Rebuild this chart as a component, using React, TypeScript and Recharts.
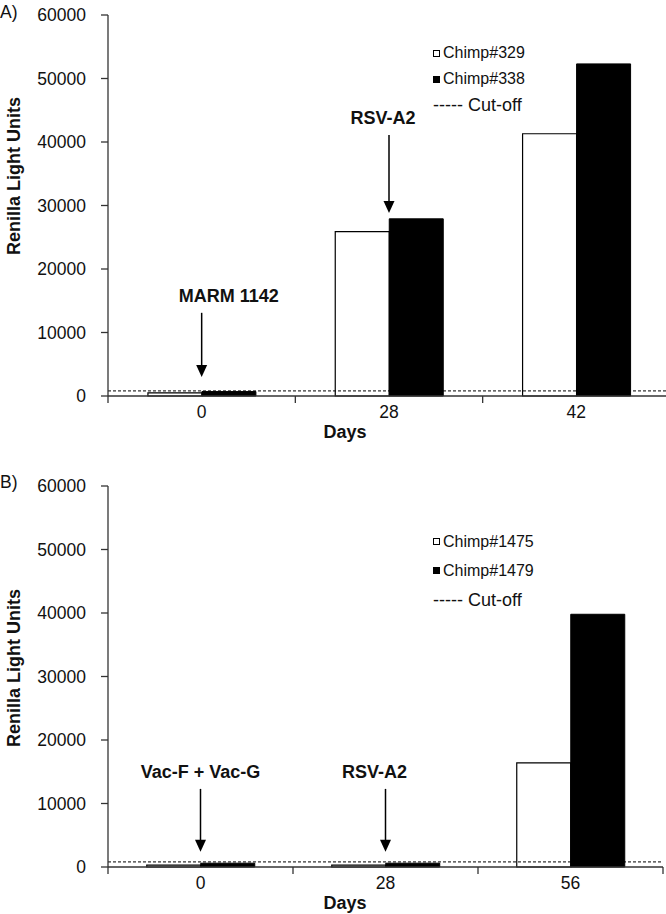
import React from 'react';
import { Bar, BarChart, Legend, ReferenceLine, XAxis, YAxis } from 'recharts';

// panel A
const daysA = ['0', '28', '42'];
const chimp329 = [500, 25900, 41300];
const chimp338 = [700, 27900, 52300];
const arrowsA = [
  { day: '0', label: 'MARM 1142', from: 13100, to: 3000 },
  { day: '28', label: 'RSV-A2', from: 41100, to: 28800 },
];

// panel B
const daysB = ['0', '28', '56'];
const chimp1475 = [300, 300, 16400];
const chimp1479 = [600, 600, 39800];
const arrowsB = [
  { day: '0', label: 'Vac-F + Vac-G', from: 12300, to: 2400 },
  { day: '28', label: 'RSV-A2', from: 12300, to: 2400 },
];

const cutOff = 800;
const yTicks = [0, 10000, 20000, 30000, 40000, 50000, 60000];

const FONT = '"Liberation Sans", Arial, sans-serif';
const INK = '#111';
const AXIS = '#333';

type Arrow = { day: string; label: string; from: number; to: number };

interface PanelProps {
  days: string[];
  first: number[];
  second: number[];
  names: [string, string];
  arrows: Arrow[];
  labelShift: number[];
  width: number;
  height: number;
  plotRight: number;
  yLabelY: number;
  legendTop: number;
  legendRow: number;
}

function DayTick(props: any) {
  const { x, y, payload, index, catWidth, count } = props;
  const left = x - catWidth / 2;
  const right = x + catWidth / 2;
  return (
    <g>
      <line x1={left} y1={y} x2={left} y2={y + 7} stroke={AXIS} strokeWidth={1.3} />
      {index === count - 1 && <line x1={right} y1={y} x2={right} y2={y + 7} stroke={AXIS} strokeWidth={1.3} />}
      <text x={x} y={y + 16} textAnchor="middle" dominantBaseline="central" fontSize={17.5} fontFamily={FONT} fill={INK}>
        {payload.value}
      </text>
    </g>
  );
}

function ArrowShape(props: any) {
  const { x1, y1, x2, y2, label, shift } = props;
  return (
    <g>
      <text x={x1 + shift} y={y1 - 17} textAnchor="middle" dominantBaseline="central" fontSize={18} fontWeight="bold" fontFamily={FONT} fill={INK}>
        {label}
      </text>
      <line x1={x1} y1={y1} x2={x2} y2={y2 - 11} stroke="#000" strokeWidth={1.5} />
      <polygon points={`${x2 - 5.5},${y2 - 12} ${x2 + 5.5},${y2 - 12} ${x2},${y2}`} fill="#000" />
    </g>
  );
}

function LegendBox({ payload, rowH }: any) {
  return (
    <div style={{ fontFamily: FONT, color: INK, lineHeight: 1 }}>
      {(payload || []).map((e: any) => (
        <div key={e.value} style={{ display: 'flex', alignItems: 'center', height: rowH, fontSize: 16 }}>
          <span
            style={{
              display: 'inline-block',
              width: 7,
              height: 7,
              boxSizing: 'border-box',
              border: '1px solid #000',
              background: e.color,
              marginRight: 3,
            }}
          />
          {e.value}
        </div>
      ))}
      <div style={{ display: 'flex', alignItems: 'center', height: rowH, fontSize: 18, whiteSpace: 'pre' }}>----- Cut-off</div>
    </div>
  );
}

function Panel(p: PanelProps) {
  const data = p.days.map((d, i) => ({ day: d, a: p.first[i], b: p.second[i] }));
  const axisX = 108;
  const catWidth = (p.plotRight - axisX) / p.days.length;
  const gap = (catWidth - 107.5) / 2;

  return (
    <BarChart
      width={p.width}
      height={p.height}
      data={data}
      margin={{ top: 15, right: p.width - p.plotRight, left: 0, bottom: p.height - 396 - 30 }}
      barGap={0}
      barCategoryGap={gap}
    >
      <XAxis
        dataKey="day"
        interval={0}
        height={30}
        tickSize={0}
        tickMargin={0}
        tickLine={false}
        axisLine={{ stroke: AXIS, strokeWidth: 1.3 }}
        tick={(t: any) => <DayTick {...t} catWidth={catWidth} count={p.days.length} />}
        label={{
          value: 'Days',
          content: ({ viewBox }: any) => (
            <text x={viewBox.x + 237} y={viewBox.y + 36} textAnchor="middle" dominantBaseline="central" fontSize={18} fontWeight="bold" fontFamily={FONT} fill={INK}>
              Days
            </text>
          ),
        }}
      />
      <YAxis
        width={axisX}
        domain={[0, 60000]}
        ticks={yTicks}
        interval={0}
        tickSize={7}
        tickMargin={15}
        tickLine={{ stroke: AXIS, strokeWidth: 1.3 }}
        axisLine={{ stroke: AXIS, strokeWidth: 1.3 }}
        tick={{ fontSize: 17.5, fontFamily: FONT, fill: INK }}
        label={{
          value: 'Renilla Light Units',
          content: () => (
            <text
              x={14}
              y={p.yLabelY}
              transform={`rotate(-90 14 ${p.yLabelY})`}
              textAnchor="middle"
              dominantBaseline="central"
              fontSize={18}
              fontWeight="bold"
              fontFamily={FONT}
              fill={INK}
            >
              Renilla Light Units
            </text>
          ),
        }}
      />
      <Legend
        layout="vertical"
        align="center"
        verticalAlign="middle"
        wrapperStyle={{ left: 433, top: p.legendTop, width: 140 }}
        content={(lp: any) => <LegendBox payload={lp.payload} rowH={p.legendRow} />}
      />
      <Bar dataKey="a" name={p.names[0]} fill="#fff" stroke="#000" strokeWidth={1.2} isAnimationActive={false} />
      <Bar dataKey="b" name={p.names[1]} fill="#000" stroke="#000" strokeWidth={1} isAnimationActive={false} />
      <ReferenceLine y={cutOff} stroke="#000" strokeWidth={1} strokeDasharray="3 2" />
      {p.arrows.map((a, i) => (
        <ReferenceLine
          key={a.label + a.day}
          segment={[
            { x: a.day, y: a.from },
            { x: a.day, y: a.to },
          ]}
          shape={(s: any) => <ArrowShape {...s} label={a.label} shift={p.labelShift[i]} />}
        />
      ))}
    </BarChart>
  );
}

export default function App() {
  const tag: React.CSSProperties = { position: 'absolute', left: 0, fontFamily: FONT, fontSize: 17.5, color: INK, lineHeight: '20px' };
  return (
    <div style={{ position: 'absolute', left: 0, top: 0, width: 666, height: 914, overflow: 'hidden', background: '#fff' }}>
      <div style={{ position: 'absolute', left: 0, top: 0 }}>
        <Panel
          days={daysA}
          first={chimp329}
          second={chimp338}
          names={['Chimp#329', 'Chimp#338']}
          arrows={arrowsA}
          labelShift={[27, -6]}
          width={680}
          height={450}
          plotRight={670}
          yLabelY={176}
          legendTop={40}
          legendRow={26}
        />
      </div>
      <div style={{ position: 'absolute', left: 0, top: 471 }}>
        <Panel
          days={daysB}
          first={chimp1475}
          second={chimp1479}
          names={['Chimp#1475', 'Chimp#1479']}
          arrows={arrowsB}
          labelShift={[0, -11]}
          width={680}
          height={443}
          plotRight={663}
          yLabelY={197}
          legendTop={56}
          legendRow={29}
        />
      </div>
      <div style={{ ...tag, top: 2 }}>A)</div>
      <div style={{ ...tag, top: 472 }}>B)</div>
    </div>
  );
}
